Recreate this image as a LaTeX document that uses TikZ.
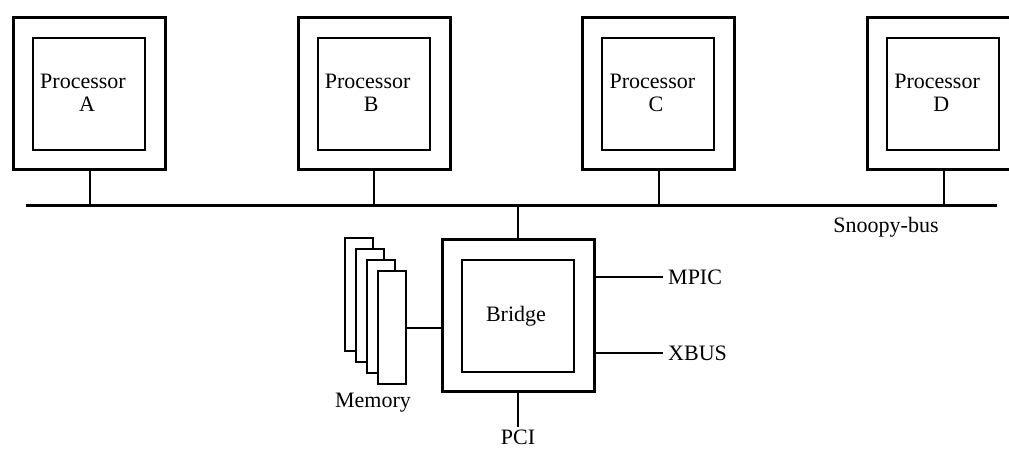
\documentclass[tikz,border=0pt]{standalone}
\usepackage{fontspec}
\setmainfont{Liberation Serif}
\usetikzlibrary{positioning}

\begin{document}
\begin{tikzpicture}[x=1pt, y=-1pt,
    outerbox/.style={draw, line width=3pt, minimum size=152pt, inner sep=0pt},
    innerbox/.style={draw, line width=2pt, minimum size=112pt, inner sep=0pt},
    memcard/.style={draw, fill=white, line width=2.5pt, minimum width=28pt, minimum height=113pt, inner sep=0pt},
    link/.style={line width=2pt},
    lbl/.style={font=\fontsize{22}{23}\selectfont, inner sep=0pt}]
    \useasboundingbox (0,0) rectangle (1009,451);

    % Snoopy-bus
    \coordinate (busL) at (26,205);
    \coordinate (busR) at (997,205);
    \draw[line width=3pt] (busL) -- (busR);
    \node[lbl] (snoopy) at (886,227) {Snoopy-bus};

    % processors on the bus
    \foreach \n [count=\i from 0] in {A,B,C,D} {
        \node[outerbox] (po\n) at ({89.5+284.7*\i},93.5) {};
        \node[innerbox] (pi\n) at ({89+284.7*\i},93.5) {};
        \node[lbl, align=left, anchor=west] (pl\n) at ([xshift=8pt, yshift=1pt]pi\n.west) {Processor\\\hspace*{39pt}\n};
        \draw[link] (po\n.south) -- (po\n.south |- busL);
    }

    % bridge
    \node[outerbox] (bo) at (518,315.5) {};
    \node[innerbox] (bi) at (518,316) {};
    \node[lbl] (bl) at ([xshift=-2pt]bi.center) {Bridge};
    \draw[link] (bo.north) -- (bo.north |- busL);

    % memory banks
    \foreach \k in {0,...,3}
        \node[memcard] (m\k) at ({359+11*\k},{294.5+11*\k}) {};
    \node[lbl] (mem) at (373,403) {Memory};
    \draw[link] (m3.east) -- (m3.east -| bo.west);

    % other buses
    \node[lbl, anchor=west, inner sep=5pt] (mpic) at (663,277) {MPIC};
    \node[lbl, anchor=west, inner sep=5pt] (xbus) at (663,353) {XBUS};
    \node[lbl, anchor=north, inner sep=3pt] (pci) at (518,427) {PCI};
    \draw[link] (mpic.west -| bo.east) -- (mpic.west);
    \draw[link] (xbus.west -| bo.east) -- (xbus.west);
    \draw[link] (bo.south) -- (pci.north);
\end{tikzpicture}
\end{document}
